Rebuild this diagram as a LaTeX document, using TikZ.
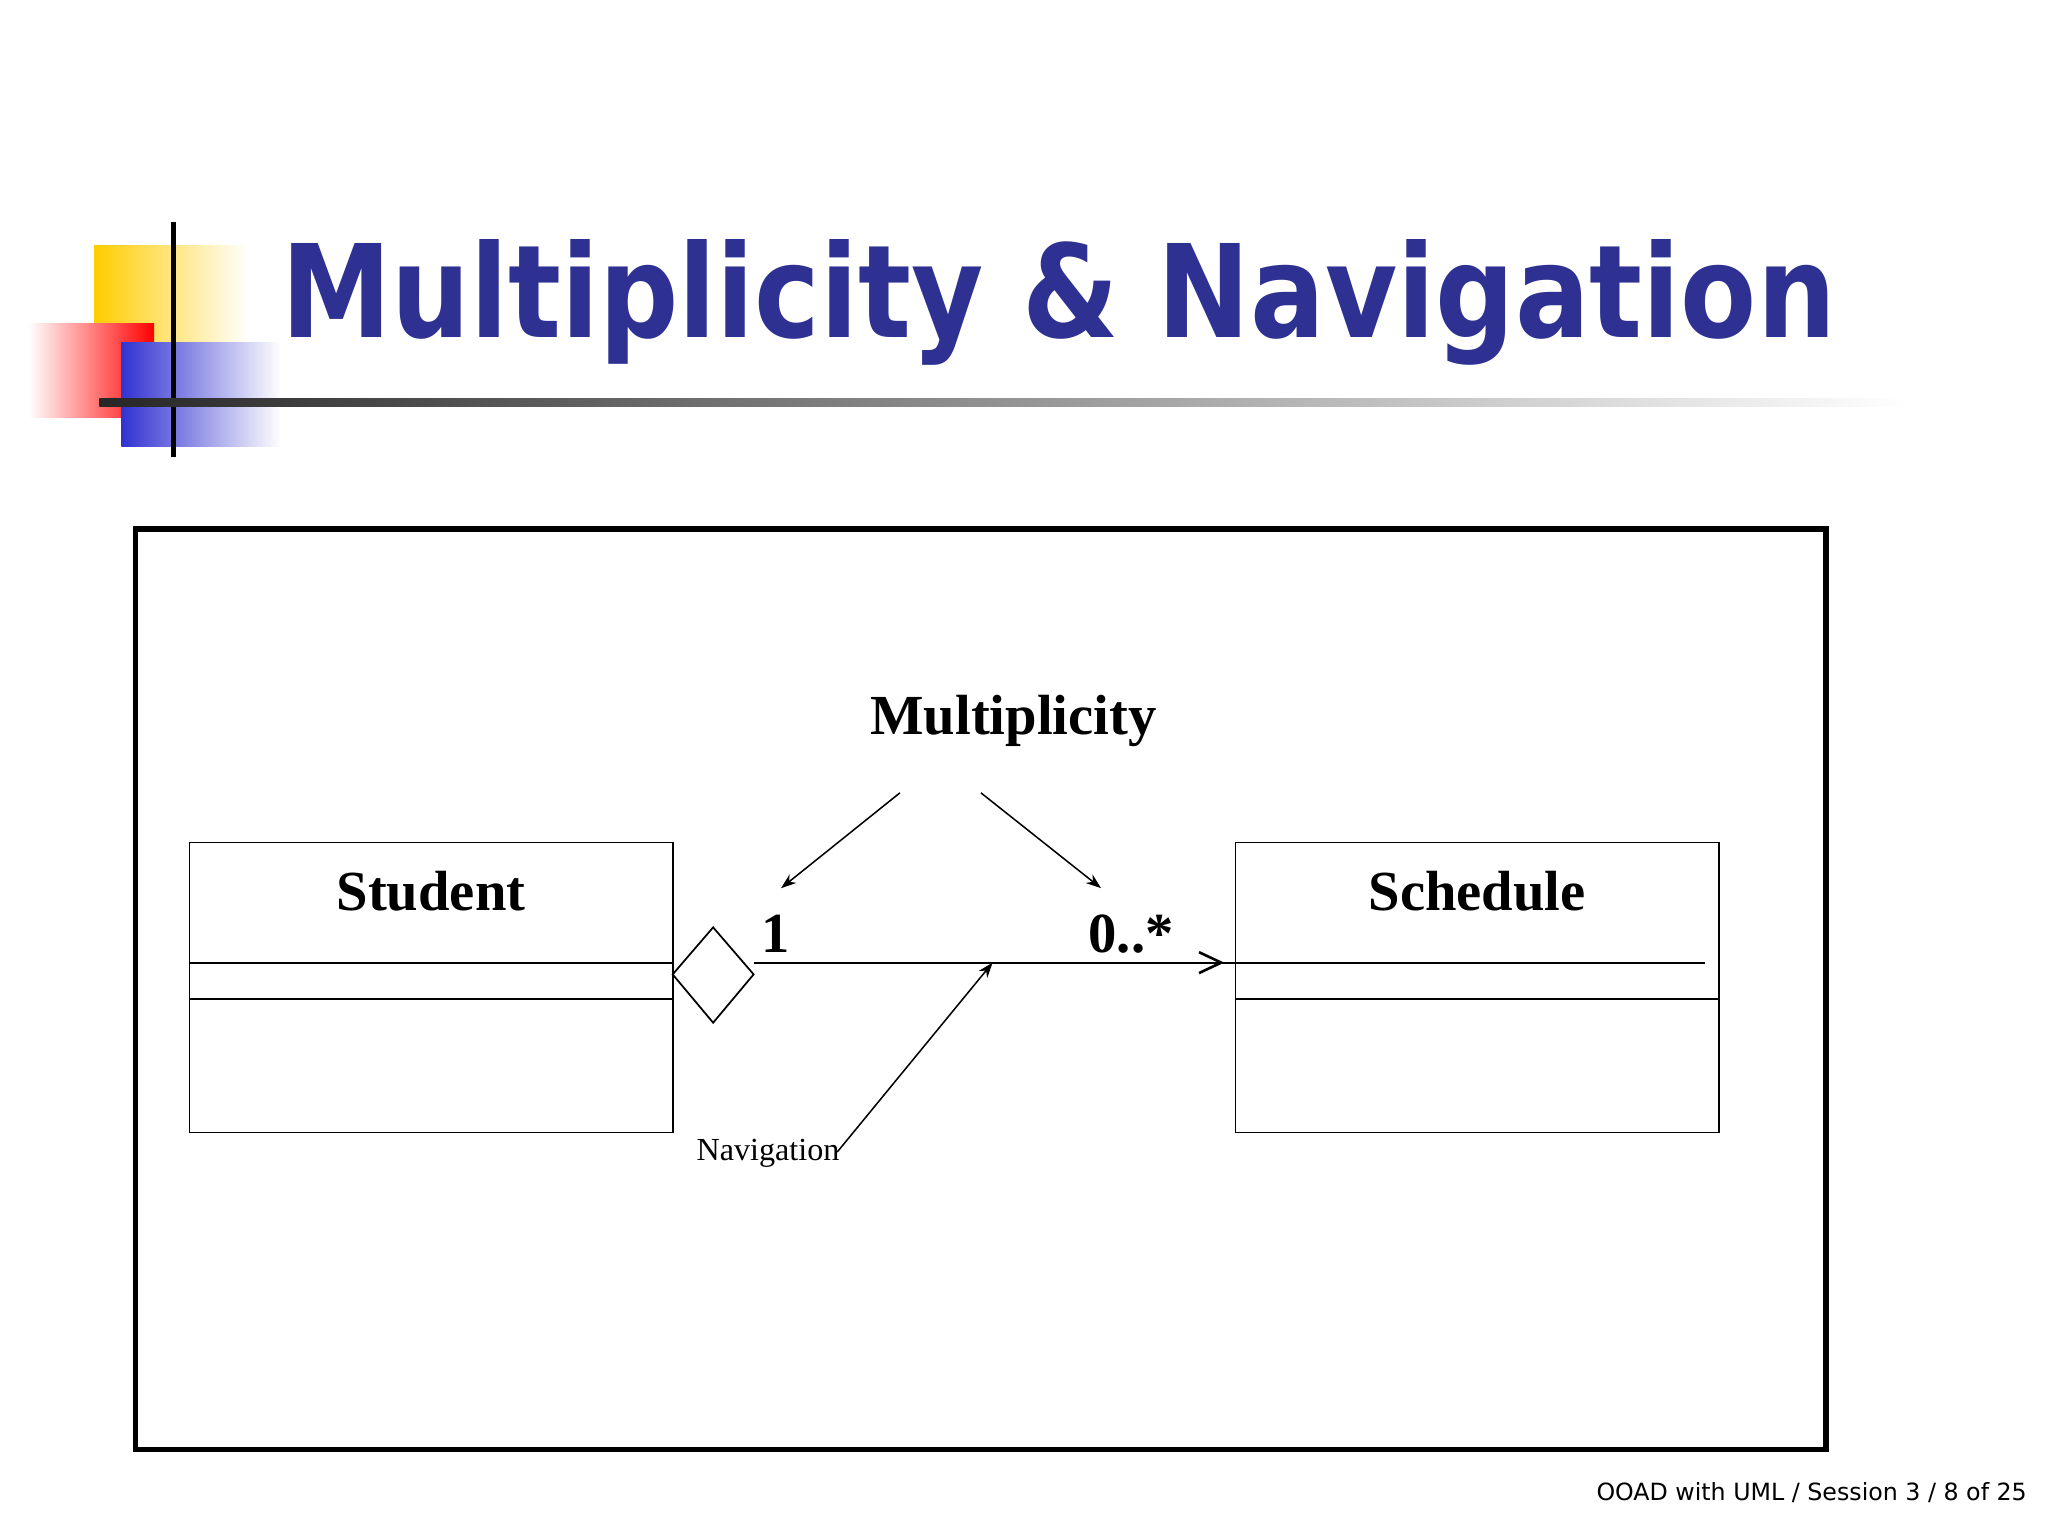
\documentclass[tikz,border=0pt]{standalone}
\usepackage{fontspec}
\setmainfont{Liberation Serif}
\newfontfamily\sansf{DejaVu Sans}
\newfontfamily\sansb{DejaVu Sans Bold}
\usetikzlibrary{shadings,arrows.meta}
\definecolor{titleblue}{RGB}{46,49,146}
\definecolor{gold}{RGB}{255,204,0}
\definecolor{lblue}{RGB}{50,50,210}
\begin{document}
\begin{tikzpicture}[x=0.3mm,y=-0.3mm,
  cls/.style={draw,line width=0.4mm},
  lbl/.style={font=\fontsize{37pt}{40pt}\selectfont\bfseries,inner sep=0},
  ptr/.style={line width=0.35mm,-{Stealth[length=3.5mm,width=2.5mm]}}]
\useasboundingbox (0,0) rectangle (1568,1176);
% logo
\shade[left color=gold, right color=white] (72,188) rectangle (190,262);
\shade[left color=white, right color=red] (22,248) rectangle (118,320);
\shade[left color=lblue, right color=white] (93,262) rectangle (215,342);
\draw[line width=1.2mm] (133,170) -- (133,350);
\shade[left color=black!85, right color=white] (76,305) rectangle (1460,311);
\node[anchor=south west,inner sep=0,text=titleblue] (title) at (215,280)
  {\resizebox{357mm}{22.5mm}{\sansb Multiplicity \& Navigation}};
% frame
\draw[line width=1.2mm] (104,405) rectangle (1398,1110);
% Student
\draw[cls] (145,645) rectangle (515,867);
\draw[cls] (145,737) -- (515,737);
\draw[cls] (145,765) -- (515,765);
\node[lbl] (student) at (330,682) {Student};
% Schedule
\draw[cls] (946,645) rectangle (1316,867);
\draw[cls] (946,737) -- (1305,737);
\draw[cls] (946,765) -- (1316,765);
\node[lbl] (schedule) at (1131,682) {Schedule};
% diamond + association
\draw[cls,fill=white] (515,746) -- (546,710) -- (577,746) -- (546,783) -- cycle;
\coordinate (as) at (577,737);
\coordinate (tip) at (935,737);
\coordinate (ae) at (946,737);
\draw[line width=0.4mm] (as) -- (ae);
\draw[line width=0.6mm] (918,729) -- (tip) -- (918,745);
\node[lbl] (one) at (594,715) {1};
\node[lbl] (many) at (866,715) {0..*};
\node[lbl] (mult) at (776,552) {Multiplicity};
\coordinate (m1) at (689,607); \coordinate (m1e) at (598,680);
\coordinate (m2) at (751,607); \coordinate (m2e) at (843,680);
\draw[ptr] (m1) -- (m1e);
\draw[ptr] (m2) -- (m2e);
\coordinate (n1) at (641,882); \coordinate (n1e) at (760,737);
\draw[ptr] (n1) -- (n1e);
\node[inner sep=0,font=\fontsize{21pt}{24pt}\selectfont] (nav) at (588,883) {Navigation};
\node[anchor=east,inner sep=0,font=\sansf\fontsize{15.5pt}{18pt}\selectfont] (foot) at (1552,1143) {OOAD with UML / Session 3 / 8 of 25};
\end{tikzpicture}
\end{document}
